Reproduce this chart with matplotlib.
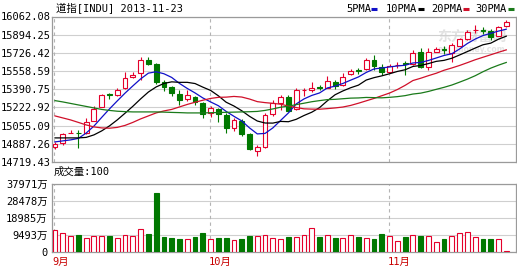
import matplotlib
matplotlib.use('Agg')
import matplotlib.pyplot as plt
from matplotlib.patches import Rectangle
from matplotlib.lines import Line2D
import matplotlib.transforms as mtransforms

# ---------------- data ----------------
opens = [14859, 14899, 14983, 14988, 14985, 15101, 15230, 15343, 15338, 15403,
         15504, 15541, 15661, 15624, 15458, 15412, 15348, 15301, 15320, 15265,
         15172, 15209, 15154, 15037, 15099, 14979, 14822, 14862, 15163, 15265,
         15320, 15209, 15380, 15384, 15410, 15406, 15461, 15431, 15532, 15564,
         15578, 15661, 15599, 15553, 15612, 15629, 15624, 15738, 15599, 15738,
         15758, 15723, 15793, 15855, 15933, 15936, 15931, 15885, 15975]
highs = [14908, 14991, 15016, 15016, 15126, 15237, 15348, 15357, 15403, 15550,
         15550, 15689, 15689, 15633, 15477, 15421, 15384, 15384, 15329, 15274,
         15237, 15218, 15172, 15126, 15117, 14988, 14877, 15172, 15292, 15338,
         15338, 15403, 15403, 15458, 15431, 15514, 15477, 15541, 15578, 15587,
         15679, 15707, 15624, 15624, 15643, 15652, 15753, 15774, 15772, 15781,
         15790, 15818, 15864, 15938, 15984, 15965, 15947, 15975, 16030]
lows = [14840, 14877, 14983, 14850, 14979, 15094, 15223, 15301, 15329, 15394,
        15495, 15477, 15615, 15440, 15378, 15329, 15246, 15283, 15246, 15126,
        15136, 15089, 14991, 15009, 14960, 14831, 14776, 14850, 15145, 15200,
        15191, 15200, 15329, 15366, 15384, 15403, 15394, 15421, 15523, 15532,
        15569, 15569, 15523, 15550, 15587, 15523, 15615, 15587, 15569, 15735,
        15716, 15645, 15790, 15845, 15907, 15901, 15845, 15882, 15965]
closes = [14887, 14976, 14988, 14985, 15092, 15209, 15338, 15338, 15384, 15495,
          15523, 15661, 15624, 15458, 15415, 15357, 15292, 15338, 15274, 15163,
          15218, 15163, 15034, 15108, 14979, 14840, 14859, 15154, 15265, 15320,
          15194, 15384, 15384, 15406, 15406, 15467, 15421, 15504, 15562, 15560,
          15661, 15606, 15548, 15606, 15615, 15624, 15728, 15594, 15738, 15760,
          15753, 15799, 15852, 15922, 15938, 15931, 15876, 15963, 16014]
# volume in units of 万
volumes = [12225, 10366, 8845, 9408, 7887, 8845, 8845, 8845, 7887, 9239,
           8845, 12619, 9972, 33238, 8450, 7718, 7155, 7155, 8450, 10704,
           7155, 7718, 7718, 6591, 7155, 8845, 8845, 9408, 7718, 6986,
           8450, 8450, 9408, 13183, 8450, 9408, 7887, 7887, 9408, 8450,
           7887, 7155, 9972, 8845, 6028, 8450, 9408, 9070, 8845, 5634,
           7155, 8845, 10704, 11267, 8450, 7155, 7155, 7155, 300]

ma5 = [14905.0, 14914.2, 14923.4, 14937.2, 14986.1, 15050.6, 15130.9, 15209.2, 15283.0, 15354.9,
       15421.3, 15485.8, 15539.3, 15552.2, 15533.8, 15499.7, 15444.3, 15398.2, 15356.7, 15310.6,
       15273.8, 15238.7, 15186.2, 15141.0, 15098.6, 15034.0, 14978.7, 14983.3, 15034.0, 15103.2,
       15172.3, 15255.3, 15301.4, 15333.7, 15356.7, 15402.8, 15419.4, 15444.3, 15474.8, 15504.3,
       15545.8, 15578.0, 15587.2, 15596.5, 15605.7, 15612.1, 15633.3, 15638.0, 15656.4, 15679.4,
       15702.5, 15718.2, 15762.4, 15813.1, 15853.7, 15886.0, 15907.2, 15927.5, 15945.0]
ma10 = [14941.8, 14941.8, 14941.8, 14941.8, 14946.5, 14969.5, 15006.4, 15052.5, 15107.8, 15169.6,
        15233.2, 15301.4, 15365.0, 15412.1, 15444.3, 15459.1, 15454.5, 15454.5, 15443.4, 15410.2,
        15379.8, 15330.0, 15271.0, 15236.0, 15192.6, 15141.0, 15097.7, 15079.2, 15078.3, 15094.0,
        15091.2, 15113.3, 15148.4, 15178.8, 15221.2, 15283.9, 15340.1, 15375.2, 15404.7, 15428.7,
        15475.7, 15497.8, 15514.4, 15533.8, 15555.0, 15570.6, 15601.1, 15610.3, 15627.8, 15648.1,
        15657.3, 15676.7, 15707.1, 15738.4, 15770.7, 15801.1, 15815.9, 15852.8, 15880.4]
ma20 = [15144.7, 15126.2, 15107.8, 15084.8, 15061.7, 15043.3, 15034.0, 15031.3, 15038.7, 15057.1,
        15084.8, 15117.0, 15144.7, 15172.3, 15190.8, 15204.6, 15227.7, 15250.7, 15271.0, 15289.4,
        15306.0, 15316.2, 15318.0, 15324.5, 15318.9, 15300.5, 15276.5, 15267.3, 15260.9, 15252.6,
        15236.0, 15222.1, 15210.1, 15207.4, 15206.5, 15212.0, 15218.4, 15226.7, 15241.5, 15261.8,
        15283.9, 15306.0, 15330.9, 15355.8, 15388.1, 15426.8, 15471.1, 15492.3, 15516.2, 15538.4,
        15566.0, 15587.2, 15610.3, 15636.1, 15662.8, 15685.9, 15708.9, 15732.0, 15754.1]
ma30 = [15285.8, 15273.8, 15259.9, 15246.1, 15232.3, 15218.4, 15204.6, 15195.4, 15188.0, 15184.3,
        15181.6, 15181.6, 15181.6, 15181.6, 15179.7, 15177.0, 15175.1, 15172.3, 15172.3, 15172.3,
        15174.2, 15176.0, 15177.9, 15179.7, 15181.6, 15183.4, 15186.2, 15195.4, 15209.2, 15224.9,
        15235.0, 15248.9, 15261.8, 15275.6, 15285.8, 15295.0, 15297.7, 15303.3, 15308.8, 15310.6,
        15315.2, 15313.4, 15311.6, 15316.2, 15322.6, 15331.8, 15346.6, 15354.9, 15370.6, 15389.9,
        15408.4, 15429.6, 15456.3, 15484.0, 15515.3, 15552.2, 15585.4, 15613.1, 15638.0]

price_ticks = [14719.43, 14887.26, 15055.09, 15222.92, 15390.75,
               15558.59, 15726.42, 15894.25, 16062.08]
price_tick_labels = ['14719.43', '14887.26', '15055.09', '15222.92', '15390.75',
                     '15558.59', '15726.42', '15894.25', '16062.08']
vol_ticks = [0, 9493, 18985, 28478, 37971]
vol_tick_labels = ['0', '9493万', '18985万', '28478万', '37971万']
month_idx = [0, 20, 43]
month_labels = ['9月', '10月', '11月']
title_text = '道指[INDU] 2013-11-23'
vol_title = '成交量:100'
legend_names = ['5PMA', '10PMA', '20PMA', '30PMA']

# ---------------- styling ----------------
FONT = ['DejaVu Sans Mono', 'Noto Sans CJK SC']
FS = 7.5
RED = '#e4002b'
GREEN = '#007800'
MA_COLORS = ['#1010c8', '#000000', '#d0102a', '#1a7a1a']
SPINE = '#9a9a9a'
GRID = '#cfcfcf'

W, H = 517, 271
fig = plt.figure(figsize=(W / 100, H / 100), dpi=100)
fig.patch.set_facecolor('white')


def fx(px):
    return px / W


def fy(py):
    return 1 - py / H


L, R = 52, 516
ax = fig.add_axes([fx(L), fy(162), fx(R) - fx(L), fy(16.5) - fy(162)])
axv = fig.add_axes([fx(L), fy(251.7), fx(R) - fx(L), fy(184.3) - fy(251.7)])

n = len(closes)
xs = list(range(n))
bw = 0.62

for a in (ax, axv):
    a.set_xlim(-0.386, 59.25)
    for s in a.spines.values():
        s.set_color(SPINE)
        s.set_linewidth(0.9)
    a.set_xticks([])
    a.tick_params(axis='y', length=0, labelsize=FS)
    for m in month_idx:
        a.axvline(m - 0.1, color='#b4b4b4', lw=0.8, ls=(0, (3, 3)), zorder=1)

# watermark
ax.text(0.905, 0.86, '东方财富网', transform=ax.transAxes, ha='center', va='center',
        fontsize=10, color='#e2e2e2', family=['Noto Sans CJK SC'], zorder=0.5,
        fontweight='bold')
ax.text(0.905, 0.77, 'eastmoney.com', transform=ax.transAxes, ha='center', va='center',
        fontsize=5.5, color='#e4e4e4', family=['DejaVu Sans'], zorder=0.5, fontweight='bold')

# candles
for i in xs:
    o, h, l, c = opens[i], highs[i], lows[i], closes[i]
    up = c >= o
    col = RED if up else GREEN
    ax.vlines(i, l, h, color=col, lw=0.8, zorder=3)
    ax.add_patch(Rectangle((i - bw / 2, min(o, c)), bw, abs(c - o),
                           facecolor='white' if up else col, edgecolor=col,
                           lw=0.8, zorder=4))

for ma, col in zip([ma5, ma10, ma20, ma30], MA_COLORS):
    ax.plot(xs, ma, color=col, lw=0.9, zorder=5)

ax.set_ylim(price_ticks[0], price_ticks[-1])
ax.set_yticks(price_ticks)
ax.set_yticklabels(price_tick_labels, family=FONT, fontsize=FS)
ax.tick_params(axis='y', pad=1)
ax.yaxis.grid(True, color=GRID, lw=0.8, zorder=0)
ax.set_axisbelow(True)

# volume bars
for i in xs:
    up = closes[i] >= opens[i]
    col = RED if up else GREEN
    axv.add_patch(Rectangle((i - bw / 2, 0), bw, volumes[i],
                            facecolor='white' if up else col, edgecolor=col,
                            lw=0.8, zorder=3))
axv.set_ylim(vol_ticks[0], vol_ticks[-1])
axv.set_yticks(vol_ticks)
axv.set_yticklabels(vol_tick_labels, family=FONT, fontsize=FS)
axv.tick_params(axis='y', pad=3)
axv.yaxis.grid(True, color=GRID, lw=0.8, zorder=0)
axv.set_axisbelow(True)

trans = mtransforms.blended_transform_factory(axv.transData, axv.transAxes)
for m, lab in zip(month_idx, month_labels):
    axv.text(m - 0.3, -0.15, lab, transform=trans, ha='left', va='center',
             fontsize=FS, family=FONT, color='#c80000')

# titles
fig.text(fx(56), fy(8.5), title_text, ha='left', va='center', fontsize=FS, family=FONT)
fig.text(fx(54), fy(172), vol_title, ha='left', va='center', fontsize=FS, family=FONT)

# legend
leg_x = [346, 386, 431, 475]
dash_x = [371, 418, 463, 508]
for name, x0, d0, col in zip(legend_names, leg_x, dash_x, MA_COLORS):
    fig.text(fx(x0), fy(8.5), name, ha='left', va='center', fontsize=FS, family=FONT)
    fig.add_artist(Line2D([fx(d0), fx(d0 + 6)], [fy(9), fy(9)], transform=fig.transFigure,
                          color=col, lw=2.2, solid_capstyle='butt'))

fig.savefig('out.png', dpi=100, facecolor='white')
